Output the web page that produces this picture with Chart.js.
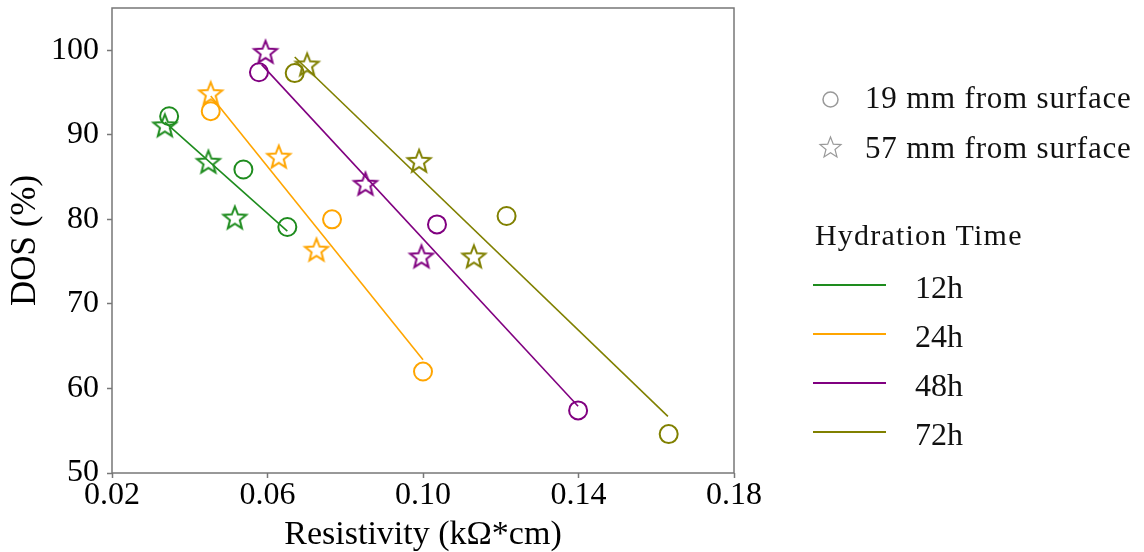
<!DOCTYPE html>
<html>
<head>
<meta charset="utf-8">
<title>DOS vs Resistivity</title>
<script src="https://cdn.jsdelivr.net/npm/chart.js@4.4.0/dist/chart.umd.min.js"></script>
<style>
    html, body { margin: 0; padding: 0; background: #fff; }
    #wrap { position: relative; width: 1144px; height: 552px; }
    #legend { position: absolute; left: 0; top: 0; pointer-events: none; }
</style>
</head>
<body>
<div id="wrap">
    <canvas id="chart"></canvas>
    <svg id="legend" width="1144" height="552" xmlns="http://www.w3.org/2000/svg"></svg>
</div>
<script>
// DOS vs resistivity for four hydration times, two sensor depths, plus linear fits

const HOURS = ['12h', '24h', '48h', '72h'];
const DEPTH_LABELS = ['19 mm from surface', '57 mm from surface'];
const LEGEND_TITLE = 'Hydration Time';

// 19 mm readings (circles), one row per hydration time
const RES_19MM = [
    [0.0347, 0.0538, 0.0651],
    [0.0454, 0.0766, 0.1000],
    [0.0578, 0.1036, 0.1399],
    [0.0670, 0.1215, 0.1632]
];
const DOS_19MM = [
    [92.2, 85.9, 79.1],
    [92.8, 80.0, 62.0],
    [97.4, 79.4, 57.4],
    [97.3, 80.4, 54.6]
];

// 57 mm readings (stars)
const RES_57MM = [
    [0.0336, 0.0448, 0.0516],
    [0.0454, 0.0629, 0.0726],
    [0.0595, 0.0852, 0.0996],
    [0.0702, 0.0990, 0.1131]
];
const DOS_57MM = [
    [91.0, 86.7, 80.1],
    [94.8, 87.3, 76.3],
    [99.7, 84.1, 75.5],
    [98.2, 86.8, 75.5]
];

// fitted line end points (start, end)
const FIT_RES = [
    [0.0336, 0.0651],
    [0.0454, 0.1000],
    [0.0585, 0.1399],
    [0.0670, 0.1630]
];
const FIT_DOS = [
    [91.5, 78.6],
    [94.6, 63.4],
    [98.3, 57.9],
    [99.2, 56.7]
];

const X_TICKS = [0.02, 0.06, 0.10, 0.14, 0.18];
const Y_TICKS = [50, 60, 70, 80, 90, 100];

const COLORS = ['#1e8c1e', '#ffa500', '#800080', '#808000'];
const SERIF = '"Liberation Serif", "Times New Roman", serif';
const FRAME = '#777';

function starImage(color, outer, lw) {
    const inner = outer * 0.43;
    const size = Math.ceil(2 * outer + 2 * lw + 2);
    const c = document.createElement('canvas');
    c.width = c.height = size;
    const g = c.getContext('2d');
    g.translate(size / 2, size / 2);
    g.beginPath();
    for (let i = 0; i < 10; i++) {
        const r = i % 2 ? inner : outer;
        const a = -Math.PI / 2 + i * Math.PI / 5;
        g.lineTo(r * Math.cos(a), r * Math.sin(a));
    }
    g.closePath();
    g.lineWidth = lw;
    g.strokeStyle = color;
    g.stroke();
    return c;
}

function starPath(cx, cy, outer) {
    const inner = outer * 0.43;
    let d = '';
    for (let i = 0; i < 10; i++) {
        const r = i % 2 ? inner : outer;
        const a = -Math.PI / 2 + i * Math.PI / 5;
        d += (i ? 'L' : 'M') + (cx + r * Math.cos(a)).toFixed(2) + ' ' + (cy + r * Math.sin(a)).toFixed(2);
    }
    return d + 'Z';
}

function pairs(xs, ys) {
    return xs.map((x, i) => ({ x: x, y: ys[i] }));
}

const datasets = [];
HOURS.forEach((h, i) => {
    datasets.push({
        label: h + ' fit',
        data: pairs(FIT_RES[i], FIT_DOS[i]),
        showLine: true,
        borderColor: COLORS[i],
        borderWidth: 1.6,
        pointRadius: 0
    });
    datasets.push({
        label: h + ' 19 mm',
        data: pairs(RES_19MM[i], DOS_19MM[i]),
        pointStyle: 'circle',
        pointRadius: 9,
        borderWidth: 2,
        borderColor: COLORS[i],
        backgroundColor: 'rgba(0,0,0,0)'
    });
    datasets.push({
        label: h + ' 57 mm',
        data: pairs(RES_57MM[i], DOS_57MM[i]),
        pointStyle: starImage(COLORS[i], 12, 2),
        pointRadius: 12,
        borderColor: COLORS[i]
    });
});

// box around the plot area (all four sides)
const frame = {
    id: 'frame',
    afterDraw(chart) {
        const { ctx, chartArea: a } = chart;
        ctx.save();
        ctx.strokeStyle = FRAME;
        ctx.lineWidth = 1.5;
        ctx.strokeRect(a.left, a.top, a.right - a.left, a.bottom - a.top);
        ctx.restore();
    }
};

new Chart(document.getElementById('chart'), {
    type: 'scatter',
    data: { datasets: datasets },
    options: {
        responsive: true,
        maintainAspectRatio: false,
        animation: false,
        events: [],
        layout: { autoPadding: false, padding: { top: 8, right: 410, left: 0, bottom: 0 } },
        plugins: { legend: { display: false }, tooltip: { enabled: false } },
        scales: {
            x: {
                type: 'linear',
                min: 0.02,
                max: 0.18,
                afterBuildTicks: s => { s.ticks = X_TICKS.map(v => ({ value: v })); },
                afterFit: s => { s.height = 79; s.paddingLeft = 0; s.paddingRight = 0; },
                ticks: {
                    autoSkip: false,
                    maxRotation: 0,
                    padding: 0,
                    color: '#000',
                    font: { family: SERIF, size: 32, lineHeight: 1.1 },
                    callback: v => v.toFixed(2)
                },
                grid: { drawOnChartArea: false, tickLength: 5, tickColor: FRAME, tickWidth: 1.5 },
                border: { display: false },
                title: {
                    display: true,
                    text: 'Resistivity (kΩ*cm)',
                    color: '#000',
                    padding: 0,
                    font: { family: SERIF, size: 34, lineHeight: 1 }
                }
            },
            y: {
                min: 50,
                max: 105,
                afterBuildTicks: s => { s.ticks = Y_TICKS.map(v => ({ value: v })); },
                afterFit: s => { s.width = 112; s.paddingTop = 0; s.paddingBottom = 0; },
                ticks: {
                    autoSkip: false,
                    padding: 8,
                    color: '#000',
                    font: { family: SERIF, size: 32, lineHeight: 0.5 },
                    callback: v => String(v)
                },
                grid: { drawOnChartArea: false, tickLength: 5, tickColor: FRAME, tickWidth: 1.5 },
                border: { display: false },
                title: {
                    display: true,
                    text: 'DOS (%)',
                    color: '#000',
                    padding: { top: 8, bottom: 0 },
                    font: { family: SERIF, size: 35, lineHeight: 1 }
                }
            }
        }
    },
    plugins: [frame]
});

// legend on the right, built as SVG so the text stays real text
(function buildLegend() {
    const svg = document.getElementById('legend');
    const NS = 'http://www.w3.org/2000/svg';
    function el(tag, attrs, text) {
        const e = document.createElementNS(NS, tag);
        for (const k in attrs) e.setAttribute(k, attrs[k]);
        if (text) e.textContent = text;
        svg.appendChild(e);
        return e;
    }
    const txt = { 'font-family': SERIF, fill: '#111' };

    el('circle', { cx: 830.5, cy: 99.5, r: 7.5, fill: 'none', stroke: '#999', 'stroke-width': 1.5 });
    el('text', Object.assign({ x: 865, y: 108, 'font-size': 31, 'letter-spacing': 0.8 }, txt), DEPTH_LABELS[0]);
    el('path', { d: starPath(830.5, 148, 11), fill: 'none', stroke: '#999', 'stroke-width': 1.2 });
    el('text', Object.assign({ x: 865, y: 158, 'font-size': 31, 'letter-spacing': 0.8 }, txt), DEPTH_LABELS[1]);

    el('text', Object.assign({ x: 815, y: 245, 'font-size': 30, 'letter-spacing': 1.2 }, txt), LEGEND_TITLE);

    HOURS.forEach((h, i) => {
        const y = 285 + i * 49;
        el('line', { x1: 813, x2: 886, y1: y, y2: y, stroke: COLORS[i], 'stroke-width': 2 });
        el('text', Object.assign({ x: 915, y: y + 13, 'font-size': 32 }, txt), h);
    });
})();
</script>
</body>
</html>
